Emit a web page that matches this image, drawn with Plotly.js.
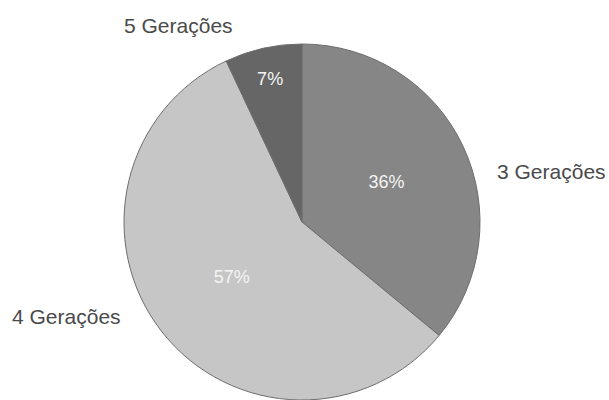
<!DOCTYPE html>
<html>
<head>
<meta charset="utf-8">
<script src="https://cdn.plot.ly/plotly-3.0.1.min.js"></script>
<style>html,body{margin:0;padding:0;background:#fff;}#chart{width:609px;height:400px;}</style>
</head>
<body>
<div id="chart"></div>
<script>
const categories = ["3 Gerações", "4 Gerações", "5 Gerações"];
const values = [36, 57, 7];
const sliceColors = ["#868686", "#c6c6c6", "#666666"];

const trace = {
  type: "pie",
  labels: categories,
  values: values,
  sort: false,
  direction: "clockwise",
  rotation: 0,
  textinfo: "percent",
  texttemplate: "%{percent:.0%}",
  textposition: "inside",
  insidetextorientation: "horizontal",
  insidetextfont: {family: "Liberation Sans, Arial, sans-serif", size: 18, color: "#f4f4f4"},
  marker: {colors: sliceColors, line: {color: "#6e6e6e", width: 1}},
  domain: {x: [124/609, 480/609], y: [0, 356/400]},
  showlegend: false,
  hoverinfo: "none"
};

const labelFont = {family: "Liberation Sans, Arial, sans-serif", size: 21, color: "#4a4a4a"};
const layout = {
  width: 609, height: 400,
  margin: {l: 0, r: 0, t: 0, b: 0},
  paper_bgcolor: "#ffffff",
  plot_bgcolor: "#ffffff",
  showlegend: false,
  annotations: [
    {text: categories[2], x: 122/609, y: 1 - 26/400, xref: "paper", yref: "paper", xanchor: "left", yanchor: "middle", showarrow: false, font: labelFont},
    {text: categories[0], x: 495/609, y: 1 - 172/400, xref: "paper", yref: "paper", xanchor: "left", yanchor: "middle", showarrow: false, font: labelFont},
    {text: categories[1], x: 10/609, y: 1 - 316/400, xref: "paper", yref: "paper", xanchor: "left", yanchor: "middle", showarrow: false, font: labelFont}
  ]
};

Plotly.newPlot("chart", [trace], layout, {displayModeBar: false, staticPlot: true});
</script>
</body>
</html>
